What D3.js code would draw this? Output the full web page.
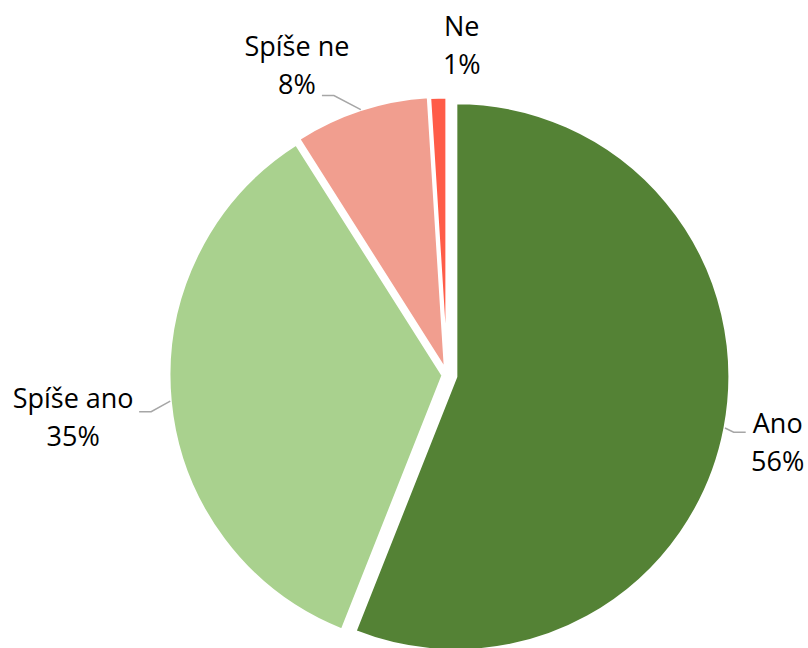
<!DOCTYPE html>
<html>
<head>
<meta charset="utf-8">
<script src="https://cdn.jsdelivr.net/npm/d3@7"></script>
<style>
  body { margin: 0; background: #fff; }
  svg { display: block; }
</style>
</head>
<body>
<svg id="chart" width="808" height="648"></svg>
<script>
// Answer shares (%)
const categories = ["Ano", "Spíše ano", "Spíše ne", "Ne"];
const shares = [56, 35, 8, 1];
const sliceColors = ["#548235", "#A9D18E", "#F19E8F", "#FF5C48"];

// Layout settings
const width = 808, height = 648;
const cx = 447, cy = 375, radius = 274;
const explode = [9, 4, 5, 4];              // per-slice pull-out distance
const labelRadius = 307;                   // nearest edge of label box from centre
const labelNudge = [[3, 4], [-8, 10], [-39, 11], [25, 7]];
const leaderAnchor = [[-32, -10], [66, -5], [25, 30], null]; // relative to label centre
const leaderElbow = 12;

const svg = d3.select("#chart");
svg.append("rect").attr("width", width).attr("height", height).attr("fill", "#fff");

const pie = d3.pie().sort(null).value(d => d.value).startAngle(0).endAngle(2 * Math.PI);
const arc = d3.arc().innerRadius(0).outerRadius(radius);

const data = categories.map((c, i) => ({ name: c, value: shares[i], color: sliceColors[i], i }));
const arcs = pie(data);

const mid = d => (d.startAngle + d.endAngle) / 2;
const sliceCentre = d => {
  const a = mid(d), e = explode[d.data.i];
  return [cx + Math.sin(a) * e, cy - Math.cos(a) * e];
};

const root = svg.append("g");

// slices
root.selectAll("path.slice")
  .data(arcs)
  .join("path")
  .attr("class", "slice")
  .attr("transform", d => `translate(${sliceCentre(d)})`)
  .attr("d", arc)
  .attr("fill", d => d.data.color)
  .attr("stroke", "#fff")
  .attr("stroke-width", 3)
  .attr("stroke-linejoin", "miter");

// labels
const labels = root.selectAll("g.label")
  .data(arcs)
  .join("g")
  .attr("class", "label");

const txt = labels.append("text")
  .attr("text-anchor", "middle")
  .attr("font-family", "'Open Sans', sans-serif")
  .attr("font-size", 27)
  .attr("fill", "#000");

txt.append("tspan").attr("class", "l1").text(d => d.data.name);
txt.append("tspan").attr("class", "l2").text(d => d.data.value + "%");

labels.each(function (d) {
  const g = d3.select(this);
  const w = Math.max(
    g.select("tspan.l1").node().getComputedTextLength(),
    g.select("tspan.l2").node().getComputedTextLength()
  );
  const h = 60;
  const a = mid(d);
  const s = Math.sin(a), c = -Math.cos(a);
  const n = labelNudge[d.data.i];
  const lx = cx + (labelRadius + w / 2) * s + n[0];
  const ly = cy + (labelRadius + h / 2) * c + n[1];
  g.select("tspan.l1").attr("x", lx).attr("y", ly - 9);
  g.select("tspan.l2").attr("x", lx).attr("y", ly + 29);

  const anc = leaderAnchor[d.data.i];
  if (anc) {
    const [sx, sy] = sliceCentre(d);
    const p0 = [sx + radius * s, sy + radius * c];
    const p2 = [lx + anc[0], ly + anc[1]];
    const dir = p0[0] > p2[0] ? 1 : -1;
    const p1 = [p2[0] + dir * leaderElbow, p2[1]];
    root.insert("path", "g.label")
      .attr("d", d3.line()([p0, p1, p2]))
      .attr("fill", "none")
      .attr("stroke", "#A6A6A6")
      .attr("stroke-width", 1.5);
  }
});
</script>
</body>
</html>
